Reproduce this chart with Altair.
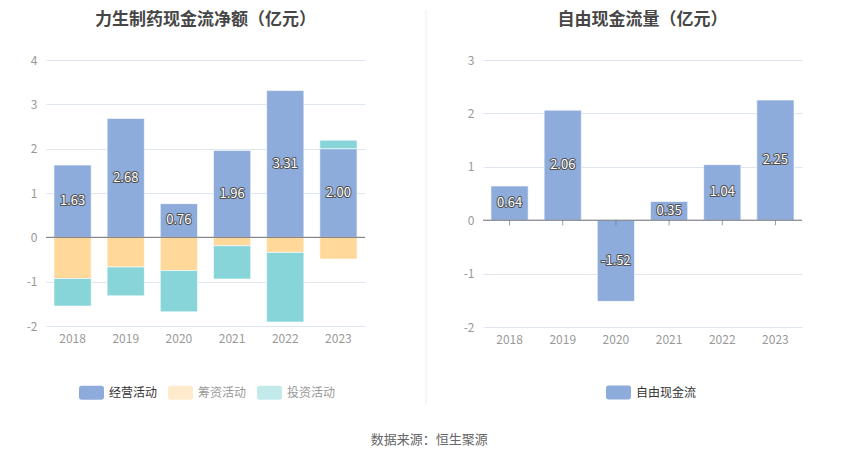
import altair as alt
import pandas as pd

# ---------------- data ----------------
years = ["2018", "2019", "2020", "2021", "2022", "2023"]
series_names = ["经营活动", "筹资活动", "投资活动"]
operating = [1.63, 2.68, 0.76, 1.96, 3.31, 2.00]
financing = [-0.93, -0.67, -0.75, -0.19, -0.34, -0.49]
investing = [-0.62, -0.65, -0.93, -0.75, -1.57, 0.19]
free_name = "自由现金流"
free_cf = [0.64, 2.06, -1.52, 0.35, 1.04, 2.25]

bar_colors = ["#8eacdb", "#ffd89a", "#87d4d9"]
legend_colors = ["#8eacdb", "#ffebcc", "#c3eaeb"]

FONT = "Noto Sans CJK SC"
GRID = "#E0E6F1"
AXIS_LINE = "#6E7079"
LBL = "#999999"

rows = []
for i, y in enumerate(years):
    for k, (name, vals) in enumerate(zip(series_names, [operating, financing, investing])):
        rows.append({"year": y, "series": name, "value": vals[i], "idx": k,
                     "label": f"{vals[i]:.2f}"})
df_cash = pd.DataFrame(rows)
df_free = pd.DataFrame({"year": years, "value": free_cf,
                        "series": [free_name] * len(years),
                        "label": [f"{v:.2f}" for v in free_cf]})
df_div = pd.DataFrame({"d": [0]})

RRECT = ("M-0.8,-0.56 H0.8 A0.2,0.2 0 0 1 1,-0.36 V0.36 A0.2,0.2 0 0 1 0.8,0.56 "
         "H-0.8 A0.2,0.2 0 0 1 -1,0.36 V-0.36 A0.2,0.2 0 0 1 -0.8,-0.56 Z")

W, H = 319, 266


def x_enc():
    return alt.X("year:N", sort=years,
                 scale=alt.Scale(paddingInner=0.3, paddingOuter=0.15),
                 axis=alt.Axis(title=None, labelAngle=0, domain=False, ticks=False,
                               grid=False, labelColor=LBL, labelFontSize=12,
                               labelPadding=7))


def y_axis(vals):
    return alt.Axis(title=None, values=vals, domain=False, ticks=False, tickSize=0,
                    labelColor=LBL, labelFontSize=12, labelPadding=9,
                    gridColor=GRID, labelExpr="datum.value + ''")


def legend(x, labelcolor):
    return alt.Legend(title=None, orient="none", legendX=x, legendY=320,
                      direction="horizontal", symbolType=RRECT, symbolSize=625,
                      symbolOpacity=1, symbolStrokeWidth=0, labelFontSize=12,
                      labelColor=labelcolor, labelOffset=5, columnPadding=10,
                      labelFont=FONT, labelLimit=200)


# ---------------- left chart ----------------
yl = alt.Y("value:Q", stack="zero",
           scale=alt.Scale(domain=[-2, 4], nice=False),
           axis=y_axis([-2, -1, 0, 1, 2, 3, 4]))

left_base = alt.Chart(df_cash)

bars_l = left_base.mark_bar(stroke="white", strokeWidth=0.6).encode(
    x=x_enc(), y=yl,
    fill=alt.Fill("series:N", scale=alt.Scale(domain=series_names, range=bar_colors),
                  legend=None),
    order=alt.Order("idx:Q"),
)

legend_l = left_base.mark_point(filled=True, opacity=0).encode(
    x=x_enc(), y=alt.Y("value:Q", stack=None),
    fill=alt.Fill("series:N", scale=alt.Scale(domain=series_names, range=legend_colors),
                  legend=legend(33, alt.ExprRef(expr="datum.label == '经营活动' ? '#333333' : '#999999'"))),
)

lab_base = left_base.transform_filter(
    alt.datum.series == "经营活动"
).transform_calculate(mid="datum.value / 2")

halo_l = lab_base.mark_text(fontSize=13, font=FONT, fill="#505050", stroke="#505050",
                            strokeWidth=2, strokeJoin="round").encode(
    x=x_enc(), y=alt.Y("mid:Q", stack=None), text="label:N")
text_l = lab_base.mark_text(fontSize=13, font=FONT, fill="white").encode(
    x=x_enc(), y=alt.Y("mid:Q", stack=None), text="label:N")

zero_l = alt.Chart(df_div).mark_rule(color=AXIS_LINE, strokeWidth=1).encode(y=alt.datum(0))

left = alt.layer(bars_l, legend_l, zero_l, halo_l, text_l).resolve_scale(
    fill="independent"
).properties(
    width=W, height=H,
    title=alt.TitleParams("力生制药现金流净额（亿元）", fontSize=17, fontWeight="bold",
                          color="#464646", font=FONT, anchor="middle", offset=25),
)

# ---------------- divider ----------------
divider = alt.Chart(df_div).mark_rule(color="#eeeeee", strokeWidth=1).encode(
    x=alt.value(50), y=alt.value(-50), y2=alt.value(345)
).properties(width=77, height=H)

# ---------------- right chart ----------------
yr = alt.Y("value:Q", scale=alt.Scale(domain=[-2, 3], nice=False),
           axis=y_axis([-2, -1, 0, 1, 2, 3]))

right_base = alt.Chart(df_free)

bars_r = right_base.mark_bar(stroke="white", strokeWidth=0.6).encode(
    x=x_enc(), y=yr,
    fill=alt.Fill("series:N", scale=alt.Scale(domain=[free_name], range=[bar_colors[0]]),
                  legend=legend(560, "#333333")),
)

zero_r = alt.Chart(df_div).mark_rule(color=AXIS_LINE, strokeWidth=1).encode(y=alt.datum(0))
ticks_r = right_base.mark_tick(orient="vertical", size=5, thickness=1, color=AXIS_LINE,
                               yOffset=2.5).encode(x=x_enc(), y=alt.datum(0))

rlab = right_base.transform_calculate(mid="datum.value / 2")
halo_r = rlab.mark_text(fontSize=13, font=FONT, fill="#505050", stroke="#505050",
                        strokeWidth=2, strokeJoin="round").encode(
    x=x_enc(), y=alt.Y("mid:Q"), text="label:N")
text_r = rlab.mark_text(fontSize=13, font=FONT, fill="white").encode(
    x=x_enc(), y=alt.Y("mid:Q"), text="label:N")

right = alt.layer(bars_r, zero_r, ticks_r, halo_r, text_r).properties(
    width=W, height=H + 1,
    title=alt.TitleParams("自由现金流量（亿元）", fontSize=17, fontWeight="bold",
                          color="#464646", font=FONT, anchor="middle", offset=25),
)

chart = alt.hconcat(left, divider, right, spacing=10).properties(
    padding={"left": 18, "top": 1, "right": 5, "bottom": 5},
    title=alt.TitleParams("数据来源：恒生聚源", orient="bottom", anchor="middle",
                          fontSize=13, fontWeight="normal", color="#666666",
                          font=FONT, offset=28, dx=15),
).configure(font=FONT).configure_view(stroke=None).configure_axis(
    labelFont=FONT
)

chart.save("out.html", embed_options={"renderer": "svg", "actions": False})
